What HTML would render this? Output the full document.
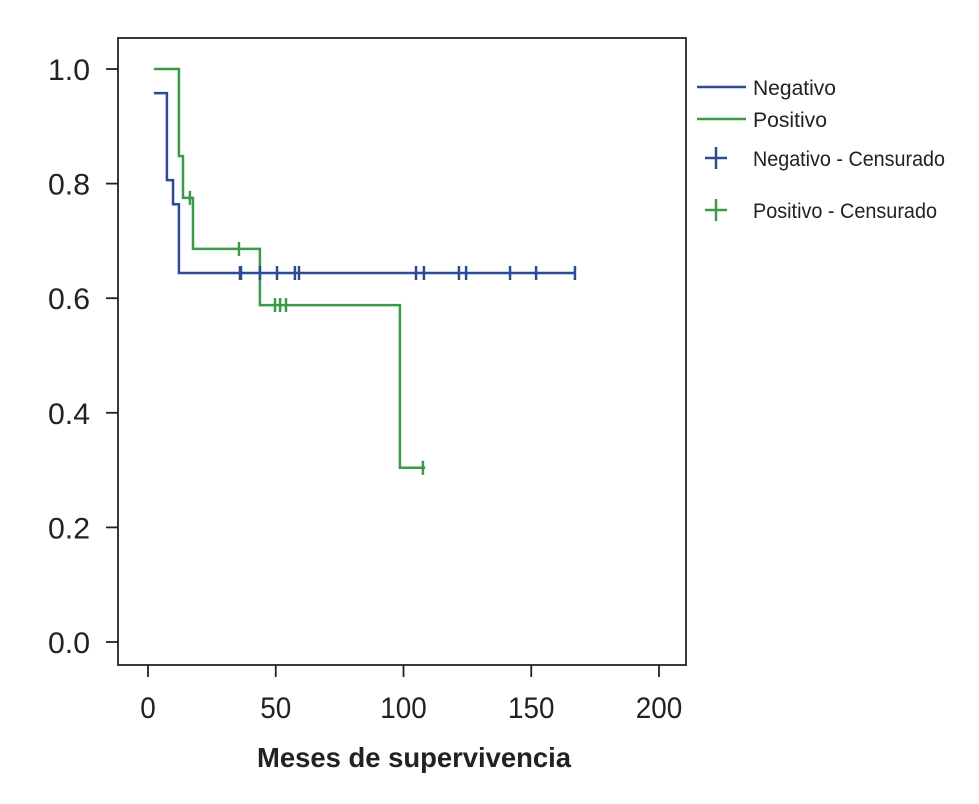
<!DOCTYPE html>
<html><head><meta charset="utf-8"><style>
html,body{margin:0;padding:0;background:#fff;}
svg{display:block;font-family:"Liberation Sans",sans-serif;}
</style></head><body>
<svg id="chart" width="979" height="804" viewBox="0 0 979 804" xmlns="http://www.w3.org/2000/svg">
<rect x="118" y="38" width="568" height="627" fill="none" stroke="#222" stroke-width="1.8"/>
<g id="axes"></g>
<g id="series"></g>
<text x="414" y="767" text-anchor="middle" font-size="28" font-weight="bold" fill="#222" textLength="314" lengthAdjust="spacingAndGlyphs">Meses de supervivencia</text>
<g>
<line x1="697" y1="87" x2="746" y2="87" stroke="#2e4a96" stroke-width="2.5"/>
<text x="753" y="95" font-size="21" fill="#222" textLength="83" lengthAdjust="spacingAndGlyphs">Negativo</text>
<line x1="697" y1="119" x2="746" y2="119" stroke="#3a9a48" stroke-width="2.5"/>
<text x="753" y="127" font-size="21" fill="#222" textLength="74" lengthAdjust="spacingAndGlyphs">Positivo</text>
<path d="M705 158H727M716 147V169" stroke="#2e4a96" stroke-width="2.5"/>
<text x="753" y="166" font-size="21" fill="#222" textLength="192" lengthAdjust="spacingAndGlyphs">Negativo - Censurado</text>
<path d="M705 210H727M716 199V221" stroke="#3a9a48" stroke-width="2.5"/>
<text x="753" y="218" font-size="21" fill="#222" textLength="184" lengthAdjust="spacingAndGlyphs">Positivo - Censurado</text>
</g>
</svg>
<script>
const xTicks = [0, 50, 100, 150, 200];
const yTicks = [0.0, 0.2, 0.4, 0.6, 0.8, 1.0];
const yTickLabels = ["0.0", "0.2", "0.4", "0.6", "0.8", "1.0"];
const negStart = 2.3;
const negTimes = [7.4, 9.8, 12.1];
const negSurv = [0.958, 0.806, 0.764, 0.644];
const negEnd = 167;
const negCensor = [36, 36.4, 43.8, 50.5, 57.5, 59.1, 104.9, 108, 121.7, 124.5, 141.7, 151.9, 167.1];
const posStart = 2.3;
const posTimes = [12.1, 13.7, 17.6, 43.8, 98.6];
const posSurv = [1.0, 0.848, 0.775, 0.686, 0.588, 0.304];
const posEnd = 108.5;
const posCensor = [16.4, 35.6, 49.7, 51.7, 54.0, 107.6];

const NS = "http://www.w3.org/2000/svg";
function X(t){ return 148 + t * (659 - 148) / 200; }
function Y(v){ return 642 - v * (642 - 69); }
function mk(tag, attrs, parent){ const e = document.createElementNS(NS, tag); for (const k in attrs) e.setAttribute(k, attrs[k]); parent.appendChild(e); return e; }
const axes = document.getElementById("axes");
xTicks.forEach(t => {
  const l = mk("line", {x1: X(t), x2: X(t), y1: 665, y2: 677, stroke: "#222", "stroke-width": 1.8}, axes);
  
  
  const s = String(t);
  const tx = mk("text", {x: X(t), y: 718, "text-anchor": "middle", "font-size": 30, fill: "#222", textLength: s.length * 15.5, lengthAdjust: "spacingAndGlyphs"}, axes);
  
  
  tx.textContent = s;
});
yTicks.forEach((v, i) => {
  const l = mk("line", {x1: 106, x2: 118, y1: Y(v), y2: Y(v), stroke: "#222", "stroke-width": 1.8}, axes);
  
  
  const tx = mk("text", {x: 90, y: Y(v) + 11, "text-anchor": "end", "font-size": 30, fill: "#222", textLength: 42, lengthAdjust: "spacingAndGlyphs"}, axes);
  
  
  tx.textContent = yTickLabels[i];
});
function survAt(times, surv, t){ let s = surv[0]; for (let i = 0; i < times.length; i++) if (t >= times[i]) s = surv[i+1]; return s; }
const series = document.getElementById("series");
function drawSeries(name, color, start, times, surv, end, censor){
  let d = "M" + X(start) + " " + Y(surv[0]);
  times.forEach((t, i) => { d += "H" + X(t) + "V" + Y(surv[i+1]); });
  d += "H" + X(end);
  const p = mk("path", {d: d, fill: "none", stroke: color, "stroke-width": 2.5}, series);
  
  
  censor.forEach(t => {
    const y = Y(survAt(times, surv, t));
    const m = mk("line", {x1: X(t), x2: X(t), y1: y - 7, y2: y + 7, stroke: color, "stroke-width": 2.5}, series);
    
    
  });
}
drawSeries("positivo", "#3a9a48", posStart, posTimes, posSurv, posEnd, posCensor);
drawSeries("negativo", "#2e4a96", negStart, negTimes, negSurv, negEnd, negCensor);
</script>
</body></html>
